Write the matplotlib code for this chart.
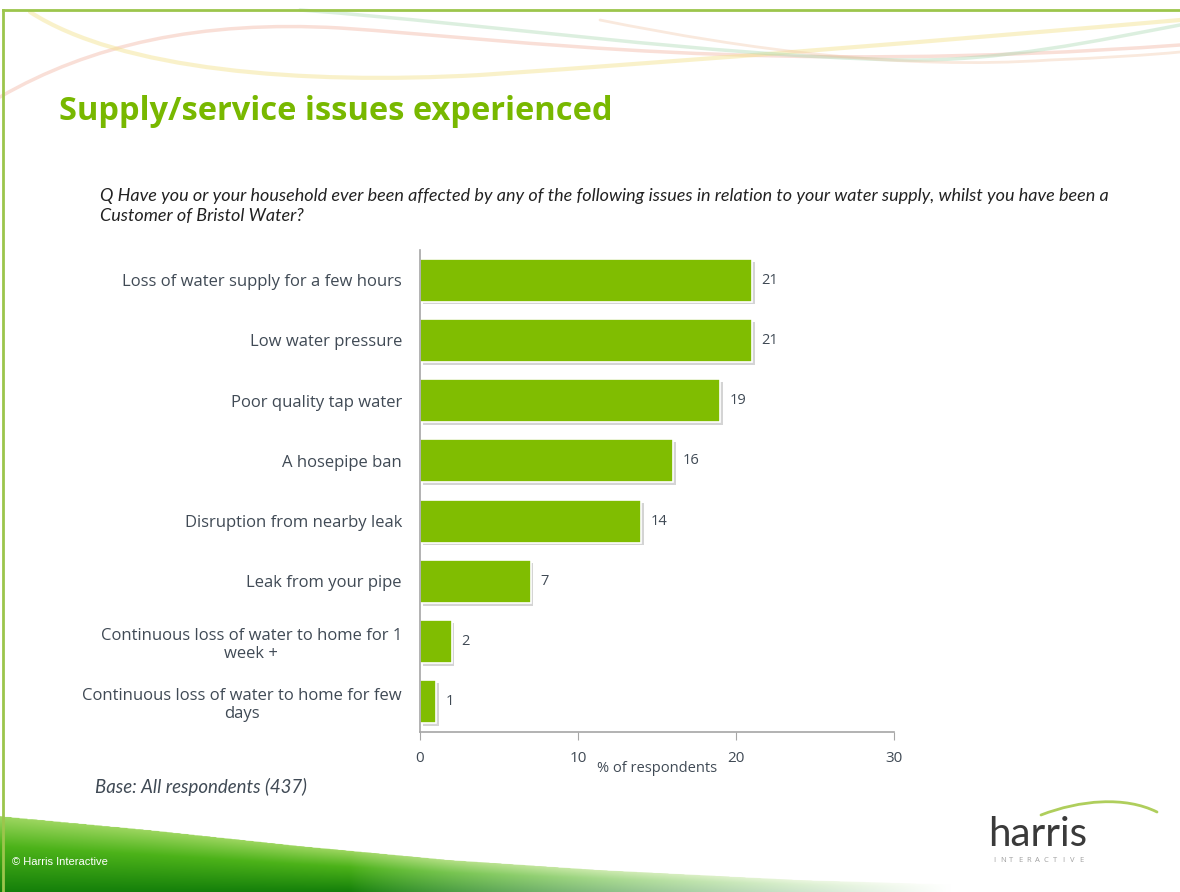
import numpy as np
import matplotlib
matplotlib.use("Agg")
import matplotlib.pyplot as plt
from matplotlib.path import Path
from matplotlib.patches import PathPatch, Polygon
import matplotlib.patheffects as pe

# survey results, % of respondents
categories = [
    "Loss of water supply for a few hours",
    "Low water pressure",
    "Poor quality tap water",
    "A hosepipe ban",
    "Disruption from nearby leak",
    "Leak from your pipe",
    "Continuous loss of water to home for 1\nweek +",
    "Continuous loss of water to home for few\ndays",
]
values = [21, 21, 19, 16, 14, 7, 2, 1]
xticks = [0, 10, 20, 30]

title = "Supply/service issues experienced"
question = ("Q Have you or your household ever been affected by any of the following issues in relation to your water supply, whilst you have been a\n"
            "Customer of Bristol Water?")
base_note = "Base: All respondents (437)"

GREEN = "#80BD01"
TEXT = "#404a55"
W, H = 1180, 892

plt.rcParams["font.family"] = ["Open Sans", "DejaVu Sans"]

fig = plt.figure(figsize=(W / 100, H / 100), dpi=100)

# slide background drawn in pixel coordinates
bg = fig.add_axes([0, 0, 1, 1], zorder=0)
bg.set_xlim(0, W)
bg.set_ylim(H, 0)
bg.axis("off")

# faint ribbons along the top
def ribbon(pts, color, lw, alpha):
    codes = [Path.MOVETO] + [Path.CURVE4] * (len(pts) - 1)
    bg.add_patch(PathPatch(Path(pts, codes), fill=False, edgecolor=color,
                           lw=lw, alpha=alpha, capstyle="round"))

ribbon([(0, 97), (90, 45), (200, 20), (340, 28), (520, 40), (760, 75), (1180, 45)], "#f2b8a8", 2.5, 0.45)
ribbon([(30, 12), (120, 70), (300, 85), (480, 75), (700, 60), (950, 40), (1180, 20)], "#f3e28a", 3, 0.45)
ribbon([(300, 10), (500, 25), (700, 55), (900, 60), (1000, 62), (1100, 40), (1180, 25)], "#a8d8b0", 2.5, 0.4)
ribbon([(600, 20), (750, 50), (900, 70), (1050, 60), (1100, 58), (1150, 55), (1180, 52)], "#f0c0a0", 2, 0.35)

# green swoosh at the bottom
sx = np.array([0, 150, 300, 450, 600, 800, 1000, 1180])
sy = np.array([816, 830, 846, 860, 870, 880, 886, 889])
gx = np.linspace(0, W, 600)
gy = np.linspace(800, H, 120)
X, Y = np.meshgrid(gx, gy)
top = np.interp(X, sx, sy)
t = np.clip((Y - top) / np.maximum(H - top, 1), 0, 1)[..., None]
light = np.array([0.62, 0.84, 0.38])
mid = np.array([0.30, 0.70, 0.10])
dark = np.array([0.08, 0.50, 0.04])
rgb = np.where(t < 0.4, light + (mid - light) * (t / 0.4), mid + (dark - mid) * ((t - 0.4) / 0.6))
fade = np.clip((X - 350) / 600, 0, 1)[..., None] ** 0.8
rgb = rgb * (1 - fade) + np.ones(3) * fade
alpha = np.where(Y >= top, 1.0, 0.0)
img = np.dstack([rgb, alpha])
im = bg.imshow(img, extent=[0, W, H, 800], origin="upper", aspect="auto", interpolation="bilinear")
clip = Polygon(np.column_stack([np.r_[sx, W, 0], np.r_[sy, H, H]]), closed=True, transform=bg.transData)
im.set_clip_path(clip)

# slide frame
bg.plot([3, W], [10, 10], color="#9cc54c", lw=2)
bg.plot([3, 3], [10, H], color="#9cc54c", lw=2)

# logo
bg.text(1038, 846, "harris", fontsize=29, color="#3a3a3a", ha="center", va="baseline",
        family=["Lato", "DejaVu Sans"])
for lx, ch in zip(np.linspace(994, 1081, 11), "INTERACTIVE"):
    bg.text(lx, 860, ch, fontsize=5.5, color="#a0a0a0", ha="center", va="center")
ribbon([(1041, 815), (1080, 800), (1125, 796), (1157, 812)], "#a6c94a", 2, 0.9)

bg.text(12, 862, "\u00a9 Harris Interactive", fontsize=8, color="white",
        family=["Liberation Sans", "DejaVu Sans"], va="center")

# headings
fig.text(59 / W, 1 - 112 / H, title, fontsize=23.5, fontweight="bold", color="#78B800", va="center")
fig.text(100 / W, 1 - 206 / H, question, fontsize=13, style="italic", color="#222222",
         va="center", linespacing=1.33, family=["Lato", "DejaVu Sans"])
fig.text(95 / W, 1 - 787 / H, base_note, fontsize=13.4, style="italic", color=TEXT, va="center",
         family=["Lato", "DejaVu Sans"])

# bar chart
ax = fig.add_axes([420 / W, 1 - 732 / H, 474 / W, 482 / H], zorder=2)
ax.patch.set_alpha(0)
ypos = np.arange(len(categories))
bars = ax.barh(ypos, values, height=0.71, color=GREEN, edgecolor="white", linewidth=1.2)
for b in bars:
    b.set_path_effects([pe.SimplePatchShadow(offset=(2, -2), shadow_rgbFace="#aaaaaa", alpha=0.5), pe.Normal()])
for y, v in zip(ypos, values):
    ax.text(v + 0.6, y, f"{v}", va="center", ha="left", fontsize=10.5, color=TEXT)

ax.set_yticks(ypos)
ax.set_yticklabels(categories, fontsize=12, color=TEXT)
for lbl in ax.get_yticklabels():
    lbl.set_multialignment("center")
ax.set_ylim(len(categories) - 0.5, -0.5)
ax.set_xlim(0, 30)
ax.set_xticks(xticks)
ax.set_xticklabels([str(x) for x in xticks], fontsize=11, color=TEXT)
ax.tick_params(axis="y", length=0, pad=13)
ax.tick_params(axis="x", length=6, color="#a6a6a6", direction="out", pad=8)
ax.set_xlabel("% of respondents", fontsize=10.5, color=TEXT, labelpad=-4)
for s in ["top", "right"]:
    ax.spines[s].set_visible(False)
for s in ["left", "bottom"]:
    ax.spines[s].set_color("#a6a6a6")
    ax.spines[s].set_linewidth(1.2)

fig.savefig("out.png", dpi=100)
